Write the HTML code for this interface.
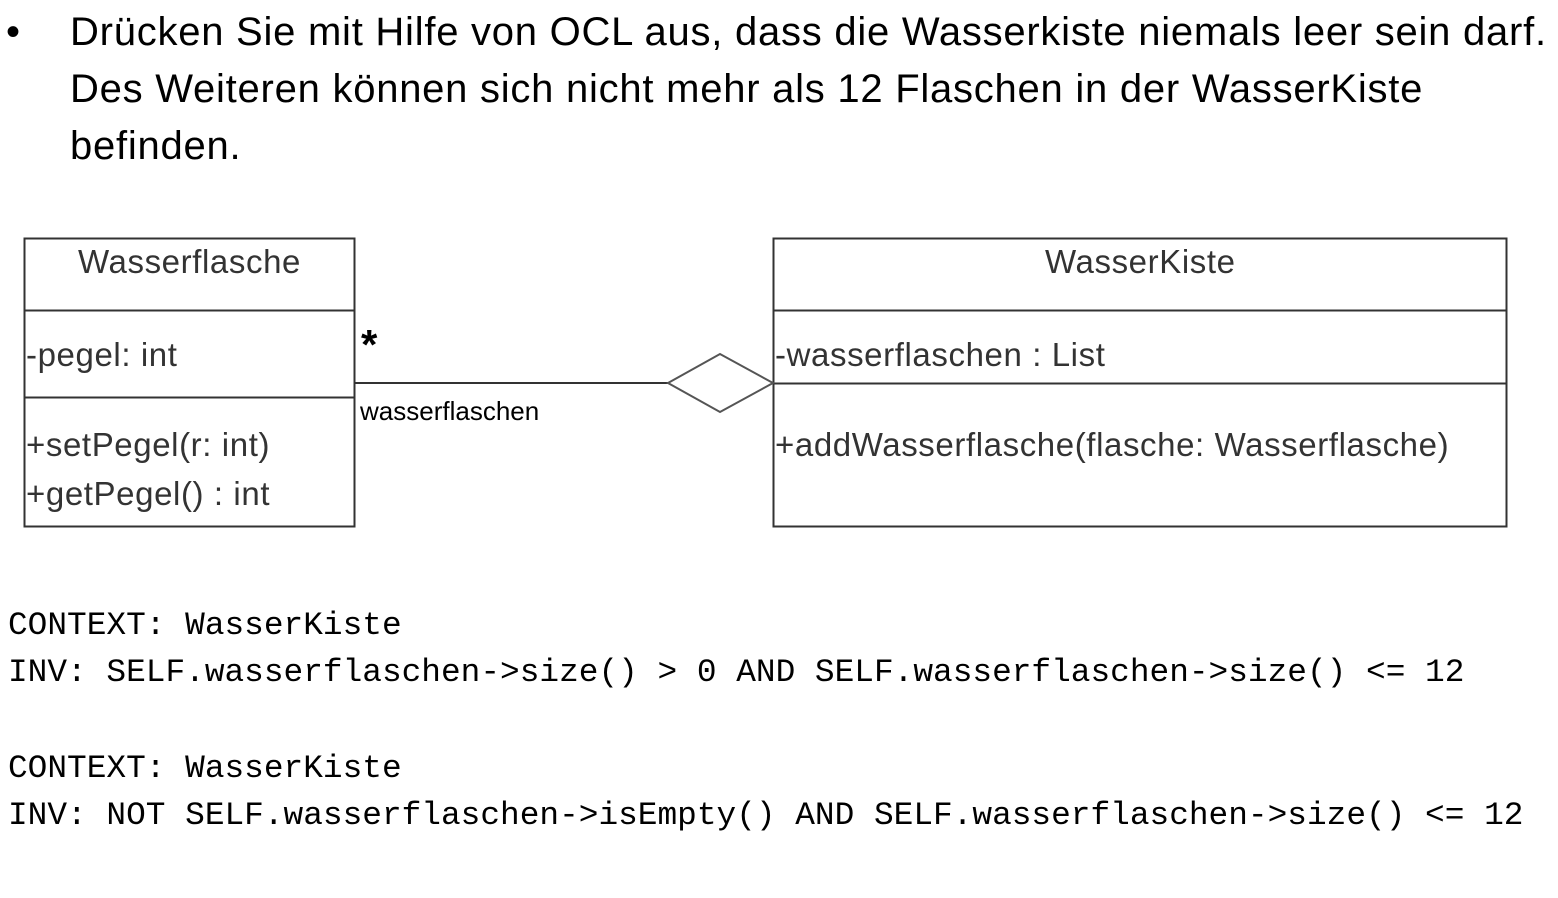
<!DOCTYPE html>
<html><head><meta charset="utf-8"><style>
body{margin:0;width:1558px;height:898px;background:#fff;position:relative;overflow:hidden;font-family:"Liberation Sans",sans-serif;}
.t{position:absolute;white-space:nowrap;}
.h{font-size:40px;color:#000;letter-spacing:0.75px;}
.c{font-size:33px;color:#333;letter-spacing:0.6px;}
.m{font-family:"Liberation Mono",monospace;font-size:32.8px;color:#000;}
</style></head><body>
<div class="t h" style="left:6px;top:10px">•</div>
<div class="t h" style="left:70px;top:10px">Drücken Sie mit Hilfe von OCL aus, dass die Wasserkiste niemals leer sein darf.</div>
<div class="t h" style="left:70px;top:67px">Des Weiteren können sich nicht mehr als 12 Flaschen in der WasserKiste</div>
<div class="t h" style="left:70px;top:124px">befinden.</div>
<svg style="position:absolute;left:0;top:0" width="1558" height="898">
<g fill="none" stroke="#333" stroke-width="2">
<rect x="24.5" y="238.5" width="330" height="288"/>
<line x1="24" y1="310.5" x2="355" y2="310.5"/>
<line x1="24" y1="397.5" x2="355" y2="397.5"/>
<rect x="773.5" y="238.5" width="733" height="288"/>
<line x1="773" y1="310.5" x2="1507" y2="310.5"/>
<line x1="773" y1="383.5" x2="1507" y2="383.5"/>
<line x1="355" y1="383" x2="668" y2="383"/>
<polygon points="668,383 720,354 773,383 720,412" stroke="#555"/>
</g></svg>
<div class="t c" style="left:78px;top:243px">Wasserflasche</div>
<div class="t c" style="left:26px;top:336px">-pegel: int</div>
<div class="t c" style="left:26px;top:426px">+setPegel(r: int)</div>
<div class="t c" style="left:26px;top:475px">+getPegel() : int</div>
<div class="t c" style="left:1045px;top:243px">WasserKiste</div>
<div class="t c" style="left:775px;top:336px">-wasserflaschen : List</div>
<div class="t c" style="left:775px;top:426px">+addWasserflasche(flasche: Wasserflasche)</div>
<div class="t" style="left:361px;top:321px;font-size:42px;font-weight:bold">*</div>
<div class="t" style="left:360px;top:396px;font-size:26px">wasserflaschen</div>
<div class="t m" style="left:8px;top:607px">CONTEXT: WasserKiste</div>
<div class="t m" style="left:8px;top:654px">INV: SELF.wasserflaschen-&gt;size() &gt; 0 AND SELF.wasserflaschen-&gt;size() &lt;= 12</div>
<div class="t m" style="left:8px;top:750px">CONTEXT: WasserKiste</div>
<div class="t m" style="left:8px;top:797px">INV: NOT SELF.wasserflaschen-&gt;isEmpty() AND SELF.wasserflaschen-&gt;size() &lt;= 12</div>
</body></html>
